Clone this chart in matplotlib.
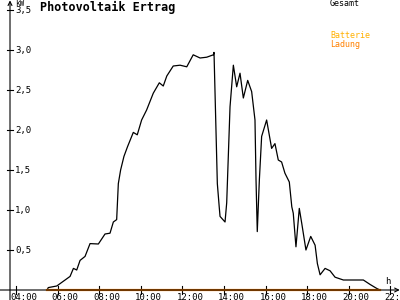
import matplotlib
matplotlib.use('Agg')
import matplotlib.pyplot as plt

# Gesamt (kW) over the day, hours as decimals
hours = [5.50, 5.55, 5.96, 6.12, 6.36, 6.60, 6.76, 6.92, 7.08, 7.32, 7.56,
         7.96, 8.28, 8.52, 8.68, 8.84, 8.92, 9.03, 9.19, 9.36, 9.64, 9.83,
         10.04, 10.28, 10.60, 10.89, 11.08, 11.25, 11.56, 11.89, 12.21,
         12.52, 12.85, 13.17, 13.49, 13.52, 13.68, 13.77, 13.81, 14.05,
         14.13, 14.29, 14.45, 14.61, 14.77, 14.93, 15.14, 15.33, 15.49,
         15.54, 15.60, 15.70, 15.81, 16.05, 16.25, 16.29, 16.45, 16.61,
         16.77, 16.93, 17.14, 17.26, 17.33, 17.46, 17.62, 17.74, 17.94,
         18.17, 18.38, 18.49, 18.62, 18.86, 19.10, 19.34, 19.74, 20.70,
         21.02, 21.34, 21.50]
gesamt = [0.0, 0.03, 0.05, 0.08, 0.125, 0.17, 0.27, 0.25, 0.37, 0.42, 0.58,
          0.575, 0.70, 0.71, 0.85, 0.88, 1.33, 1.50, 1.67, 1.79, 1.97, 1.94,
          2.125, 2.25, 2.46, 2.59, 2.55, 2.675, 2.80, 2.81, 2.79,
          2.94, 2.90, 2.91, 2.94, 2.97, 1.33, 1.04, 0.92, 0.85,
          1.09, 2.29, 2.81, 2.54, 2.71, 2.40, 2.62, 2.48, 2.125,
          1.375, 0.73, 1.375, 1.92, 2.125, 1.83, 1.77, 1.83, 1.625,
          1.60, 1.46, 1.35, 1.04, 0.96, 0.54, 1.02, 0.83, 0.50,
          0.67, 0.56, 0.33, 0.19, 0.27, 0.24, 0.16, 0.125, 0.125,
          0.07, 0.02, 0.0]
# Batterie Ladung stays at zero all day
ladung = [0.0] * len(hours)

x_ticks = [4, 6, 8, 10, 12, 14, 16, 18, 20, 22]
x_labels = ['04:00', '06:00', '08:00', '10:00', '12:00', '14:00', '16:00',
            '18:00', '20:00', '22:00']
y_ticks = [0.5, 1.0, 1.5, 2.0, 2.5, 3.0, 3.5]
y_labels = ['0,5', '1,0', '1,5', '2,0', '2,5', '3,0', '3,5']

mono = 'DejaVu Sans Mono'
yaxis_x = 3.712

fig = plt.figure(figsize=(4, 3), dpi=100)
ax = fig.add_axes([0, 0, 1, 1])
ax.set_xlim(3.231, 22.462)
ax.set_ylim(-0.125, 3.625)
ax.axis('off')

# axes with arrows
ax.annotate('', xy=(22.45, 0), xytext=(3.231, 0),
            arrowprops=dict(arrowstyle='->', lw=0.8, color='black',
                            shrinkA=0, shrinkB=0, mutation_scale=7))
ax.annotate('', xy=(yaxis_x, 3.62), xytext=(yaxis_x, -0.125),
            arrowprops=dict(arrowstyle='->', lw=0.8, color='black',
                            shrinkA=0, shrinkB=0, mutation_scale=7))

for t, lab in zip(x_ticks, x_labels):
    ax.plot([t, t], [-0.05, 0.05], color='black', lw=0.8)
    ax.text(t - 0.29, -0.088, lab, fontsize=6.5, family=mono,
            ha='left', va='center')
for v, lab in zip(y_ticks, y_labels):
    ax.plot([yaxis_x - 0.14, yaxis_x + 0.14], [v, v], color='black', lw=0.8)
    ax.text(yaxis_x + 0.24, v, lab, fontsize=6.5, family=mono,
            ha='left', va='center')

ax.plot(hours, gesamt, color='black', lw=0.9)
ax.plot(hours, ladung, color='#ff8000', lw=1.6)

fig.text(40 / 400, 1 - 7 / 300, 'Photovoltaik Ertrag', fontsize=8.5,
         family=mono, weight='bold', ha='left', va='center')
fig.text(15 / 400, 1 - 3 / 300, 'kW', fontsize=5.5, family=mono,
         ha='left', va='center')
fig.text(330 / 400, 1 - 4 / 300, 'Gesamt', fontsize=6, family=mono,
         ha='left', va='center')
fig.text(330 / 400, 1 - 36 / 300, 'Batterie', fontsize=6, family=mono,
         color='#ffb000', ha='left', va='center')
fig.text(330 / 400, 1 - 44 / 300, 'Ladung', fontsize=6, family=mono,
         color='#ff8000', ha='left', va='center')
fig.text(385 / 400, 1 - 282 / 300, 'h', fontsize=6.5, family=mono,
         ha='left', va='center')

fig.savefig('out.png', dpi=100)
